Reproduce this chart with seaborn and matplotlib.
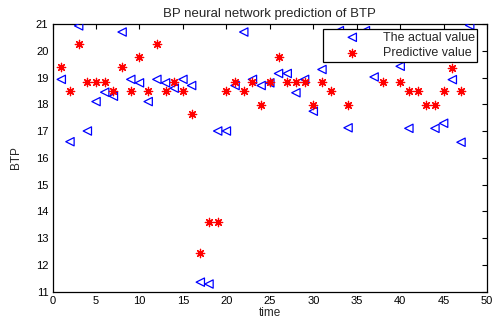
import numpy as np
import matplotlib
matplotlib.use('Agg')
import matplotlib.pyplot as plt
import seaborn as sns

sns.set_style('white')
plt.rcParams['font.family'] = ['Liberation Sans', 'DejaVu Sans']

# sample index
time = list(range(1, 49))

# actual BTP (values at x=32,35,38,39,42,43 sit under the legend, estimated)
actual = [18.93, 16.6, 20.93, 17.0, 18.1, 18.45, 18.3, 20.7, 18.93, 18.8,
          18.1, 18.93, 18.8, 18.6, 18.93, 18.7, 11.35, 11.28, 17.0, 17.0,
          18.7, 20.7, 18.93, 18.7, 18.8, 19.15, 19.15, 18.43, 18.93, 17.74,
          19.3, 20.2, 20.75, 17.12, 20.0, 20.75, 19.02, 20.3, 19.9, 19.42,
          17.1, 20.1, 20.4, 17.1, 17.29, 18.92, 16.58, 20.95]

# BP network output (x=33,35,36,37,39,48 hidden by legend, estimated)
predicted = [19.4, 18.5, 20.25, 18.83, 18.83, 18.83, 18.5, 19.4, 18.5, 19.75,
             18.5, 20.25, 18.5, 18.83, 18.5, 17.65, 12.43, 13.6, 13.6, 18.5,
             18.83, 18.5, 18.83, 17.98, 18.83, 19.75, 18.83, 18.83, 18.83, 17.98,
             18.83, 18.5, 20.25, 17.98, 19.75, 20.25, 19.75, 18.83, 20.25, 18.83,
             18.5, 18.5, 17.98, 17.98, 18.5, 19.37, 18.5, 20.25]

fig = plt.figure(figsize=(4.96, 3.2), dpi=100)
ax = fig.add_axes([0.106, 0.089, 0.876, 0.836])

sns.scatterplot(x=time, y=actual, ax=ax, marker='<', s=36,
                facecolors='none', edgecolor='blue', linewidth=0.9,
                label='The actual value', zorder=3)
sns.scatterplot(x=time, y=predicted, ax=ax, marker=(8, 2, 0), s=36,
                color='red', edgecolor='red', linewidth=0.9,
                label='Predictive value', zorder=3)

ax.set_xlim(0, 50)
ax.set_ylim(11, 21)
ax.set_xticks(range(0, 51, 5))
ax.set_yticks(range(11, 22))
ax.tick_params(direction='in', length=3.5, width=0.8, labelsize=8,
               top=True, right=True, colors='black', pad=3)
for sp in ax.spines.values():
    sp.set_color('black')
    sp.set_linewidth(0.9)

ax.set_title('BP neural network prediction of BTP', fontsize=9.5, pad=5)
ax.set_xlabel('time', fontsize=8.5, labelpad=1)
ax.set_ylabel('BTP', fontsize=8.5, labelpad=10)

leg = ax.legend(loc='upper right', bbox_to_anchor=(0.977, 0.981), fontsize=9,
                frameon=True, fancybox=False, framealpha=1, edgecolor='black',
                borderpad=0.2, labelspacing=0.3, handletextpad=0.25,
                handlelength=4.35, borderaxespad=0)
leg.get_frame().set_linewidth(0.9)
leg.set_zorder(5)

fig.savefig('out.png', dpi=100)
